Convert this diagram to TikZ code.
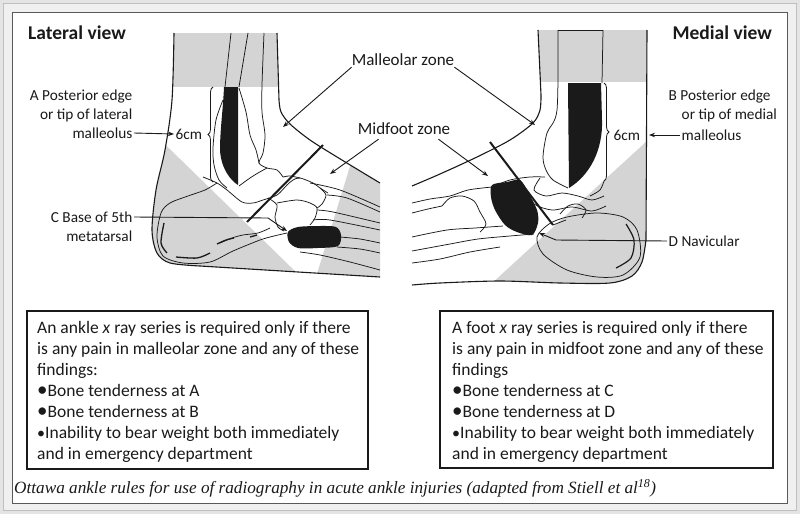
\documentclass[tikz,border=0pt]{standalone}
\usepackage{fontspec}
\usepackage{graphicx}
\setmainfont{Liberation Serif}
\newfontfamily\gs{Carlito}
\usetikzlibrary{arrows.meta,decorations.pathreplacing}
\definecolor{outerbg}{HTML}{E4E4E4}
\definecolor{panelbg}{HTML}{F0F0F0}
\definecolor{frameline}{HTML}{5A5A5A}
\definecolor{stipple}{HTML}{D4D4D4}
\definecolor{ink}{HTML}{1A1A1A}
\newcommand\bul{{\fontsize{21}{21}\selectfont\textbullet}}
\newcommand\sbul{{\fontsize{16}{16}\selectfont\textbullet}}
\begin{document}
\begin{tikzpicture}[x=1pt,y=-1pt,
  lbl/.style={font=\gs\fontsize{15.3}{17}\selectfont, inner sep=1.5pt, text=ink},
  zone/.style={font=\gs\fontsize{17}{19}\selectfont, inner sep=1pt, text=ink},
  ttl/.style={font=\gs\bfseries\fontsize{19.5}{22}\selectfont, inner sep=0pt, text=ink},
  arr/.style={draw=ink, line width=0.9pt, -{Stealth[length=6pt,width=4.5pt]}},
  skin/.style={draw=ink, line width=1.1pt},
  bone/.style={draw=ink, line width=0.75pt},
  zline/.style={draw=ink, line width=2pt},
  rulebox/.style={draw=ink, line width=1.2pt},
  boxtext/.style={font=\gs\fontsize{17.5}{20.9}\selectfont, align=left, inner sep=0pt, anchor=north west, text=ink},
  bracebone/.style={draw=ink, line width=0.8pt, decorate, decoration={brace, amplitude=5pt}},
  squig/.style={draw=ink, line width=1.3pt},
]
\useasboundingbox (0,0) rectangle (800,514);
\fill[outerbg] (0,0) rectangle (800,514);
\draw[draw=black!25, fill=panelbg] (3.5,3.5) rectangle (796.5,510.5);
\draw[frameline, line width=1pt, fill=white] (12.5,12.5) rectangle (787.5,503);

%================ LATERAL VIEW =================
\begin{scope}
\clip plot[smooth] coordinates {(174,33) (172,100) (165,150) (156,190) (152,230) (157,253) (170,263) (200,266)} -- (380,277) -- (380,183) -- plot[smooth] coordinates {(380,183) (337,157) (310,140) (290,124) (281,112) (279,100)} -- (277,33) -- cycle;
\fill[stipple] (140,20) rectangle (300,87);
\fill[stipple] (140,120) -- (300,276) -- (300,300) -- (140,300) -- cycle;
\fill[stipple] (355,150) -- (312,290) -- (400,290) -- (400,150) -- cycle;
\end{scope}
\draw[skin] plot[smooth] coordinates {(174,33) (172,100) (165,150) (156,190) (152,230) (157,253) (170,263) (200,266)} -- (380,277);
\draw[skin] (277,33) -- (279,100) -- plot[smooth] coordinates {(279,100) (281,112) (290,124) (310,140) (337,157) (380,183)};
% fibula and tibia
\fill[ink] (224,87) -- (238,87) -- (238,185) .. controls (230,180) and (221,168) .. (220,150) .. controls (220,130) and (223,110) .. (224,87) -- cycle;
\draw[bone] (231,33) -- (225,87);
\draw[bone] (248,33) -- (239,87);
\draw[bone] plot[smooth] coordinates {(264,33) (262,85) (262,112) (265,135) (263,153) (259,163) (267,168) (277,170) (283,177)};
\draw[bone] plot[smooth] coordinates {(239,88) (246,112) (250,135) (256,150) (259,163)};
\draw[bone] plot[smooth] coordinates {(223,100) (216,120) (213,148) (214,165) (219,180) (227,188)};
% talus and joints
\draw[bone] plot[smooth] coordinates {(239,186) (250,178) (258,173) (267,168)};
\draw[bone] plot[smooth] coordinates {(203,177) (217,183) (227,190) (242,202) (253,203) (263,200) (277,195) (287,185) (293,180) (300,178) (313,183) (320,188) (328,193)};
\draw[bone] plot[smooth] coordinates {(283,177) (290,176) (300,178)};
% calcaneus
\draw[bone] plot[smooth] coordinates {(217,183) (205,190) (188,196) (170,203) (161,213) (157,237) (163,256) (183,263) (210,262) (233,251) (260,240) (274,236) (287,233)};
\draw[squig] plot[smooth] coordinates {(164,223) (161,243) (167,253)};
\draw[squig] plot[smooth] coordinates {(176,257) (197,258) (210,253)};
\draw[squig] plot[smooth] coordinates {(217,244) (226,240) (234,238)};
\draw[squig] (250,237) -- (257,235);
\draw[bone] plot[smooth] coordinates {(220,243) (232,238) (243,235) (258,233) (270,228)};
% cuboid and cuneiforms
\draw[bone] plot[smooth] coordinates {(268,198) (277,205) (275,217) (278,227) (284,231)};
\draw[bone] plot[smooth] coordinates {(277,203) (297,200) (310,203) (317,208) (315,218) (310,225)};
\draw[bone] plot[smooth] coordinates {(320,188) (326,195) (322,204) (317,208)};
% metatarsals
\draw[bone] plot[smooth] coordinates {(310,183) (340,190) (380,207)};
\draw[bone] plot[smooth] coordinates {(327,195) (347,198) (380,212)};
\draw[bone] plot[smooth] coordinates {(317,210) (333,212) (380,223)};
\draw[bone] plot[smooth] coordinates {(313,220) (330,220) (380,230)};
\draw[bone] plot[smooth] coordinates {(340,237) (360,239) (380,243)};
\draw[bone] plot[smooth] coordinates {(337,247) (360,249) (380,253)};
\draw[bone] plot[smooth] coordinates {(300,252) (320,255) (350,262) (380,270)};
% base of 5th metatarsal
\fill[ink] plot[smooth cycle] coordinates {(288,232) (298,227) (320,226) (336,227) (341,235) (338,246) (318,248) (298,248) (289,242)};
% midfoot zone line
\draw[zline] (323,145) -- (247,222);
% brace
\draw[bracebone] (213,182) -- (213,87);

% labels
\node[ttl, anchor=west] (latv) at (28,33) {Lateral view};
\node[lbl, anchor=east] (a1) at (134,97) {A Posterior edge};
\node[lbl, anchor=east] (a2) at (134,115) {or tip of lateral};
\node[lbl, anchor=east] (a3) at (134,133) {malleolus};
\node[lbl, anchor=west] (sixL) at (174,134) {6cm};
\draw[arr] (a3.east) -- (sixL.west);
\node[lbl, anchor=east] (c1) at (134,217) {C Base of 5th};
\node[lbl, anchor=east] (c2) at (134,236) {metatarsal};
\coordinate (cbend) at (268,218);
\coordinate (ctip) at (287,231);
\draw[arr] (c1.east) -- (cbend) -- (ctip);

% zone labels
\node[zone] (mz) at (403,60) {Malleolar zone};
\coordinate (mzL) at (283,127);
\coordinate (mzR) at (535,125);
\draw[arr] ([xshift=1pt]mz.south west) -- (mzL);
\draw[arr] ([xshift=-1pt]mz.south east) -- (mzR);
\node[zone] (mf) at (404,129) {Midfoot zone};
\coordinate (mfL) at (330,174);
\coordinate (mfR) at (488,176);
\draw[arr] ([xshift=22pt,yshift=-3pt]mf.south west) -- (mfL);
\draw[arr] ([xshift=-13pt,yshift=-3pt]mf.south east) -- (mfR);

%================ MEDIAL VIEW =================
\begin{scope}
\clip (538,30) -- (541,95) -- plot[smooth] coordinates {(541,95) (540,110) (533,123) (510,140) (477,157) (440,174) (405,189)} -- (405,290) -- plot[smooth] coordinates {(410,285) (440,283) (500,281) (560,283) (610,283) (632,276) (642,262) (646,240)} -- (647,30) -- cycle;
\fill[stipple] (520,20) rectangle (660,82);
\fill[stipple] (660,129) -- (490,285) -- (660,290) -- cycle;
\end{scope}
\draw[skin] (538,30) -- (541,95) -- plot[smooth] coordinates {(541,95) (540,110) (533,123) (510,140) (477,157) (440,174) (412,186)};
\draw[skin] (647,30) -- (646,240) -- plot[smooth] coordinates {(646,240) (642,262) (632,276) (610,283) (560,283) (500,281) (440,283) (412,285)};
% tibia / medial malleolus
\draw[bone] (558,30) -- (603,30);
\draw[bone] plot[smooth] coordinates {(558,30) (557,110) (547,133) (543,157) (546,170) (553,180) (568,188)};
\draw[bone] (603,30) -- (602,83);
\fill[ink] (568,83) -- (601,83) -- (602,120) .. controls (603,150) and (590,175) .. (569,188) -- cycle;
\draw[bracebone] (604,83) -- (604,181);
\draw[bone] plot[smooth] coordinates {(604,181) (600,190) (590,196)};
% talus etc
\draw[bone] plot[smooth] coordinates {(540,178) (534,190) (546,196) (562,193) (578,196) (592,200) (604,196)};
\draw[bone] plot[smooth] coordinates {(522,190) (534,204) (552,210) (572,207) (592,211) (606,206)};
\draw[bone] plot[smooth] coordinates {(560,214) (568,206) (578,204) (586,210) (582,218)};
% calcaneus
\draw[bone] plot[smooth cycle] coordinates {(537,237) (543,254) (567,270) (597,277) (623,275) (640,257) (637,230) (623,217) (597,213) (567,217) (549,224)};
\draw[ink, line width=1.2pt] plot[smooth] coordinates {(626,224) (634,240) (631,258) (616,268)};
% cuneiforms / metatarsals
\draw[bone] plot[smooth] coordinates {(412,203) (430,199) (450,196) (468,190) (492,187)};
\draw[bone] plot[smooth] coordinates {(412,213) (428,209) (442,206)};
\draw[bone] plot[smooth] coordinates {(442,206) (450,198) (462,196) (474,201) (480,212) (486,224) (480,232)};
\draw[bone] plot[smooth] coordinates {(412,237) (447,230) (475,228) (503,226)};
\draw[bone] plot[smooth] coordinates {(412,251) (450,244) (478,239) (510,236) (534,234)};
\draw[bone] plot[smooth] coordinates {(412,263) (440,259) (470,252) (500,247)};
\draw[bone] plot[smooth] coordinates {(492,187) (510,180) (530,177) (545,177)};
% navicular
\fill[ink] plot[smooth cycle] coordinates {(492,185) (507,182) (520,180) (528,192) (537,210) (538,223) (532,235) (517,232) (505,225) (495,210) (491,197)};
\draw[zline] (490,142) -- (553,225);
\draw[bone] (553,225) -- (566,220);

% labels
\node[ttl, anchor=east] (medv) at (772,33) {Medial view};
\node[lbl, anchor=west] (b1) at (667,97) {B Posterior edge};
\node[lbl, anchor=west] (b2) at (680,115) {or tip of medial};
\node[lbl, anchor=west] (b3) at (680,135) {malleolus};
\node[lbl, anchor=west] (sixR) at (612,135) {6cm};
\coordinate (btip) at (649,135);
\draw[arr] (b3.west) -- (btip);
\node[lbl, anchor=west] (d1) at (667,241) {D Navicular};
\coordinate (dbend) at (556,240);
\coordinate (dtip) at (539,233);
\draw[arr] (d1.west) -- (dbend) -- (dtip);

%================ RULE BOXES =================
\draw[rulebox] (27,311) rectangle (368,469);
\node[boxtext] (lt) at (37,321.5) {An ankle \textit{x} ray series is required only if there\\
is any pain in malleolar zone and any of these\\
findings:\\
\bul Bone tenderness at A\\
\bul Bone tenderness at B\\
\sbul Inability to bear weight both immediately\\
and in emergency department};
\draw[rulebox] (440,311) rectangle (773,468);
\node[boxtext] (rt) at (452,321.5) {A foot \textit{x} ray series is required only if there\\
is any pain in midfoot zone and any of these\\
findings\\
\bul Bone tenderness at C\\
\bul Bone tenderness at D\\
\sbul Inability to bear weight both immediately\\
and in emergency department};

\node[anchor=west, inner sep=0pt, font=\itshape\fontsize{17.2}{19}\selectfont, text=ink] (cap) at (14,488) {Ottawa ankle rules for use of radiography in acute ankle injuries (adapted from Stiell et al\textsuperscript{18})};
\end{tikzpicture}
\end{document}
